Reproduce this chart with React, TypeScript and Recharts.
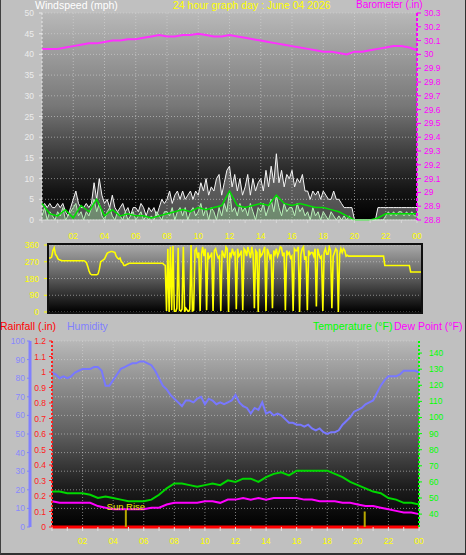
import React from "react";
import {
  Area,
  CartesianGrid,
  ComposedChart,
  Line,
  LineChart,
  ReferenceLine,
  XAxis,
  YAxis,
} from "recharts";

const FONT = "'Liberation Sans', Arial, sans-serif";
const TICK_FONT = 8.5;

// time axis (hours of the day)
const HOUR_TICKS = [0, 1, 2, 3, 4, 5, 6, 7, 8, 9, 10, 11, 12, 13, 14, 15, 16, 17, 18, 19, 20, 21, 22, 23, 24];
const GRID_HOURS = [2, 4, 6, 8, 10, 12, 14, 16, 18, 20, 22];

// wind (mph), 10 minute samples
const WIND_GUST = [
  3, 4, 3, 4, 3, 3,
  4, 3, 4, 2, 1, 3,
  5, 7, 4, 3, 3, 4,
  3, 4, 9, 5, 10, 6,
  4, 5, 3, 6, 3, 2,
  3, 4, 2, 3, 1, 3,
  3, 2, 4, 3, 1, 3,
  2, 3, 1, 3, 5, 4,
  5, 7, 4, 6, 7, 5,
  7, 5, 6, 7, 5, 7,
  6, 9, 7, 10, 6, 8,
  7, 10, 11, 6, 9, 12,
  13, 8, 11, 7, 10, 6,
  8, 11, 6, 10, 7, 9,
  10, 7, 12, 8, 13, 9,
  16, 9, 12, 8, 11, 10,
  12, 8, 10, 9, 11, 7,
  7, 5, 7, 6, 7, 5,
  7, 6, 5, 5, 7, 5,
  5, 4, 3, 3, 3, 3,
  0, 0, 0, 0, 0, 0,
  0, 0, 0, 3, 3, 3,
  3, 3, 3, 3, 3, 3,
  3, 3, 3, 3, 3, 3,
  3,
];
const WIND_SPEED = [
  1, 3, 0, 2, 1, 0,
  2, 1, 3, 0, 1, 2,
  3, 4, 1, 2, 0, 2,
  1, 3, 5, 2, 4, 1,
  0, 2, 3, 1, 0, 2,
  1, 0, 2, 0, 1, 2,
  0, 1, 2, 0, 1, 0,
  1, 0, 2, 1, 0, 2,
  2, 1, 3, 0, 2, 3,
  1, 3, 0, 2, 3, 1,
  2, 4, 1, 3, 0, 3,
  2, 0, 3, 1, 4, 2,
  7, 2, 3, 1, 4, 2,
  3, 1, 4, 2, 0, 3,
  2, 4, 1, 3, 5, 2,
  6, 3, 1, 4, 2, 3,
  3, 1, 4, 2, 3, 1,
  2, 0, 3, 1, 2, 0,
  2, 1, 0, 2, 1, 0,
  1, 0, 1, 0, 1, 0,
  0, 0, 0, 0, 0, 0,
  0, 0, 0, 0, 0, 0,
  1, 2, 1, 2, 1, 2,
  2, 1, 2, 1, 2, 1,
  1,
];
// 30 minute samples
const WIND_AVG = [
  4, 1.5, 1, 2.5, 0.5, 3.5, 2, 5, 1, 2.5, 1, 1.5, 1, 1, 0.5, 1, 1.5, 2, 2.5, 2, 3, 2.5, 3, 3.5, 7,
  3.5, 3, 3.5, 4, 3.5, 6, 4, 3.5, 4, 3.5, 3, 3, 2.5, 2, 1, 0, 0, 0, 0.5, 1.5, 1.5, 1.5, 1.5, 1.5,
];
const BAROMETER = [
  30.04, 30.04, 30.04, 30.05, 30.06, 30.07, 30.08, 30.08, 30.09, 30.1, 30.1, 30.11, 30.11, 30.12,
  30.13, 30.14, 30.13, 30.13, 30.14, 30.14, 30.15, 30.14, 30.13, 30.13, 30.14, 30.13, 30.12, 30.11,
  30.1, 30.09, 30.08, 30.07, 30.06, 30.05, 30.04, 30.03, 30.02, 30.02, 30.01, 30.0, 30.02, 30.02,
  30.03, 30.04, 30.05, 30.06, 30.06, 30.05, 30.03,
];
const WIND_TICKS = [0, 5, 10, 15, 20, 25, 30, 35, 40, 45, 50];
const BARO_TICKS = [28.8, 28.9, 29, 29.1, 29.2, 29.3, 29.4, 29.5, 29.6, 29.7, 29.8, 29.9, 30, 30.1, 30.2, 30.3];

// wind direction (degrees), 5 minute samples
const WIND_DIR = [
  290, 290, 295, 330, 345, 310, 300, 285, 280, 278, 275, 275,
  275, 275, 275, 275, 275, 275, 275, 275, 275, 275, 275, 275,
  275, 275, 275, 275, 272, 265, 245, 220, 205, 200, 200, 200,
  200, 200, 205, 230, 270, 275, 280, 285, 300, 315, 320, 322,
  325, 325, 322, 320, 300, 290, 285, 290, 270, 265, 250, 250,
  255, 258, 262, 262, 262, 262, 262, 262, 262, 262, 262, 262,
  262, 262, 262, 262, 262, 262, 262, 262, 262, 262, 262, 262,
  262, 262, 262, 262, 262, 255, 250, 5, 340, 0, 350, 10,
  355, 5, 0, 20, 345, 10, 5, 15, 350, 0, 20, 10,
  0, 15, 360, 5, 10, 330, 340, 290, 320, 5, 310, 350,
  300, 340, 10, 320, 290, 300, 320, 5, 330, 340, 310, 290,
  300, 5, 330, 310, 290, 350, 340, 0, 320, 300, 340, 310,
  320, 15, 340, 300, 310, 330, 10, 340, 330, 300, 350, 320,
  290, 350, 310, 20, 330, 320, 0, 340, 300, 310, 330, 350,
  5, 340, 320, 290, 310, 20, 330, 310, 340, 300, 320, 350,
  345, 300, 320, 10, 330, 310, 320, 290, 300, 5, 340, 330,
  330, 350, 0, 310, 340, 350, 280, 300, 10, 330, 310, 320,
  320, 300, 340, 30, 340, 310, 290, 300, 5, 320, 340, 310,
  310, 350, 330, 20, 300, 320, 340, 330, 0, 310, 340, 320,
  340, 330, 300, 305, 300, 300, 300, 300, 300, 300, 300, 300,
  300, 300, 300, 300, 300, 300, 300, 300, 300, 300, 300, 300,
  300, 300, 300, 300, 300, 300, 300, 300, 250, 250, 250, 250,
  250, 250, 250, 250, 250, 250, 250, 250, 250, 250, 250, 250,
  250, 250, 250, 250, 215, 215, 215, 215, 215, 215, 215, 215,
  215,
];
const DIR_TICKS = [0, 90, 180, 270, 360];
const DIR_LETTERS = ["N", "E", "S", "W", "N"];

// humidity (%), 15 minute samples
const HUMIDITY = [
  83, 82, 80, 81,
  80, 81, 83, 84,
  85, 85, 85, 86,
  86, 84, 76, 76,
  79, 82, 85, 86,
  87, 88, 88, 89,
  89, 88, 87, 84,
  80, 76, 74, 71,
  69, 67, 65, 68,
  68, 67, 69, 70,
  66, 69, 68, 66,
  67, 66, 67, 68,
  71, 67, 65, 64,
  61, 64, 63, 67,
  61, 62, 60, 61,
  60, 58, 56, 56,
  55, 55, 54, 55,
  53, 52, 53, 51,
  50, 51, 51, 52,
  55, 57, 59, 62,
  63, 64, 66, 67,
  68, 72, 76, 79,
  81, 81, 81, 82,
  84, 84, 84, 84,
  83,
];
// temperature and dew point (F), 30 minute samples
const TEMPERATURE = [
  54, 54, 53, 53, 53, 52, 50, 51, 50, 49, 48, 48, 48, 49, 52, 56, 59, 59, 58, 57, 58, 59, 58, 61, 60,
  62, 62, 60, 63, 65, 66, 64, 67, 67, 67, 67, 67, 65, 63, 60, 58, 56, 54, 53, 50, 49, 47, 47, 46,
];
const DEW_POINT = [
  48, 47, 47, 47, 47, 47, 45, 44, 43, 43, 43, 43, 43, 44, 44, 46, 47, 47, 47, 47, 48, 48, 47, 49, 49,
  50, 49, 50, 49, 50, 50, 50, 50, 49, 49, 48, 48, 48, 47, 47, 46, 45, 45, 44, 43, 42, 41, 41, 40,
];
// rainfall (in), hourly
const RAINFALL = [0, 0, 0, 0, 0, 0, 0, 0, 0, 0, 0, 0, 0, 0, 0, 0, 0, 0, 0, 0, 0, 0, 0, 0, 0];
const SUN_RISE = 4.83;
const SUN_SET = 20.45;

const HUM_TICKS = [0, 10, 20, 30, 40, 50, 60, 70, 80, 90, 100];
const RAIN_TICKS = [0, 0.1, 0.2, 0.3, 0.4, 0.5, 0.6, 0.7, 0.8, 0.9, 1, 1.1, 1.2];
const TEMP_TICKS = [40, 50, 60, 70, 80, 90, 100, 110, 120, 130, 140];

const windTable = WIND_GUST.map((g, i) => ({ h: i / 6, gust: g, speed: WIND_SPEED[i] }));
const avgTable = WIND_AVG.map((v, i) => ({ h: i / 2, avg: v }));
const baroTable = BAROMETER.map((v, i) => ({ h: i / 2, baro: v }));
const dirTable = WIND_DIR.map((v, i) => ({ h: i / 12, dir: v }));
const humTable = HUMIDITY.map((v, i) => ({ h: i / 4, hum: v }));
const tempTable = TEMPERATURE.map((v, i) => ({ h: i / 2, temp: v, dew: DEW_POINT[i] }));
const rainTable = RAINFALL.map((v, i) => ({ h: i, rain: v }));

const oneDecimal = (v: number) => String(Math.round(v * 10) / 10);

const axisTick =
  (fill: string, anchor: "start" | "end" | "middle", fmt = (v: number) => String(v), fontSize = TICK_FONT) =>
  ({ x, y, payload }: any) => (
    <text
      x={x}
      y={y}
      fill={fill}
      fontSize={fontSize}
      fontFamily={FONT}
      textAnchor={anchor}
      dominantBaseline="central"
    >
      {fmt(payload.value)}
    </text>
  );

const HourTick = ({ x, y, payload }: any) => {
  const h = payload.value;
  if (h === 0 || h % 2 !== 0) return <g />;
  return (
    <text x={x} y={y} dy="0.71em" fill="#ffff00" fontSize={TICK_FONT} fontFamily={FONT} textAnchor="middle">
      {String(h % 24).padStart(2, "0")}
    </text>
  );
};

const title = (text: string, left: number, top: number, color: string, fontSize = 10.5) => (
  <div
    style={{
      position: "absolute",
      left,
      top,
      color,
      fontFamily: FONT,
      fontSize,
      lineHeight: "10px",
      whiteSpace: "nowrap",
    }}
  >
    {text}
  </div>
);

const gridStyle = {
  stroke: "#d8d8d8",
  strokeOpacity: 0.55,
  strokeDasharray: "1 2",
};

export default function App() {
  return (
    <div
      style={{
        position: "absolute",
        left: 0,
        top: 0,
        width: 466,
        height: 555,
        background: "#c0c0c0",
        overflow: "hidden",
      }}
    >
      {/* wind speed + barometer */}
      <div style={{ position: "absolute", left: 0, top: 0 }}>
        <ComposedChart width={466} height={245} data={windTable} margin={{ top: 13, right: 0, bottom: 0, left: 0 }}>
          <defs>
            <linearGradient id="bgWind" x1="0" y1="0" x2="0" y2="1">
              <stop offset="0" stopColor="#b8b8b8" />
              <stop offset="0.45" stopColor="#777777" />
              <stop offset="0.7" stopColor="#383838" />
              <stop offset="0.86" stopColor="#141414" />
              <stop offset="1" stopColor="#000000" />
            </linearGradient>
          </defs>
          <CartesianGrid yAxisId="wind" fill="url(#bgWind)" fillOpacity={1} verticalValues={GRID_HOURS} {...gridStyle} />
          <XAxis
            dataKey="h"
            type="number"
            domain={[0, 24]}
            ticks={HOUR_TICKS}
            interval={0}
            height={25}
            tickSize={3}
            tickMargin={10}
            tick={HourTick}
            axisLine={{ stroke: "#d8d8d8" }}
            tickLine={{ stroke: "#d8d8d8" }}
          />
          <YAxis
            yAxisId="wind"
            domain={[0, 50]}
            ticks={WIND_TICKS}
            interval={0}
            width={42}
            tickSize={3}
            tickMargin={5}
            tick={axisTick("#ececec", "end")}
            axisLine={{ stroke: "#e8e8e8", strokeDasharray: "2 2" }}
            tickLine={{ stroke: "#e8e8e8" }}
          />
          <YAxis
            yAxisId="baro"
            orientation="right"
            domain={[28.8, 30.3]}
            ticks={BARO_TICKS}
            interval={0}
            width={49}
            tickSize={4}
            tickMargin={3}
            tick={axisTick("#ff00ff", "start", oneDecimal)}
            axisLine={{ stroke: "#ff00ff", strokeWidth: 2, strokeDasharray: "3 2" }}
            tickLine={{ stroke: "#ff00ff" }}
          />
          <Area
            yAxisId="wind"
            dataKey="gust"
            type="linear"
            stroke="#f4f4f4"
            strokeWidth={1}
            fill="#ffffff"
            fillOpacity={0.3}
            isAnimationActive={false}
            dot={false}
          />
          <Area
            yAxisId="wind"
            dataKey="speed"
            type="linear"
            stroke="#b8f0b8"
            strokeWidth={1}
            fill="#a0e0a0"
            fillOpacity={0.4}
            isAnimationActive={false}
            dot={false}
          />
          <Line
            yAxisId="wind"
            data={avgTable}
            dataKey="avg"
            type="linear"
            stroke="#00e000"
            strokeWidth={1.5}
            dot={false}
            isAnimationActive={false}
          />
          <Line
            yAxisId="baro"
            data={baroTable}
            dataKey="baro"
            type="linear"
            stroke="#ff30ff"
            strokeWidth={2}
            dot={false}
            isAnimationActive={false}
          />
        </ComposedChart>
      </div>

      {/* wind direction */}
      <div style={{ position: "absolute", left: 0, top: 238 }}>
        <LineChart width={466} height={84} data={dirTable} margin={{ top: 7, right: 0, bottom: 10, left: 0 }}>
          <defs>
            <linearGradient id="bgDir" x1="0" y1="0" x2="0" y2="1">
              <stop offset="0" stopColor="#a8a8a8" />
              <stop offset="0.5" stopColor="#5a5a5a" />
              <stop offset="1" stopColor="#000000" />
            </linearGradient>
          </defs>
          <CartesianGrid yAxisId="dir" fill="url(#bgDir)" fillOpacity={1} vertical={false} {...gridStyle} />
          <XAxis dataKey="h" type="number" domain={[0, 24]} hide />
          <YAxis
            yAxisId="dir"
            domain={[0, 360]}
            ticks={DIR_TICKS}
            interval={0}
            width={49}
            tickSize={5}
            tickMargin={5}
            tick={axisTick("#ffff00", "end")}
            axisLine={false}
            tickLine={{ stroke: "#ffff00" }}
          />
          <YAxis
            yAxisId="compass"
            orientation="right"
            domain={[0, 360]}
            ticks={DIR_TICKS}
            interval={0}
            width={45}
            tickSize={0}
            tickMargin={18}
            tick={axisTick("#ffff00", "middle", (v) => DIR_LETTERS[DIR_TICKS.indexOf(v)], 11.5)}
            axisLine={false}
            tickLine={false}
          />
          <Line
            yAxisId="dir"
            dataKey="dir"
            type="linear"
            stroke="#ffff00"
            strokeWidth={1.6}
            dot={false}
            isAnimationActive={false}
          />
        </LineChart>
      </div>
      <div
        style={{
          position: "absolute",
          left: 47,
          top: 243,
          width: 376,
          height: 71,
          boxSizing: "border-box",
          border: "2px solid #101010",
          pointerEvents: "none",
        }}
      />

      {/* rainfall, humidity, temperature, dew point */}
      <div style={{ position: "absolute", left: 0, top: 328 }}>
        <ComposedChart width={466} height={224} data={humTable} margin={{ top: 13, right: 0, bottom: 0, left: 0 }}>
          <defs>
            <linearGradient id="bgClimate" x1="0" y1="0" x2="0" y2="1">
              <stop offset="0" stopColor="#b8b8b8" />
              <stop offset="0.5" stopColor="#5e5e5e" />
              <stop offset="0.78" stopColor="#1e1e1e" />
              <stop offset="1" stopColor="#000000" />
            </linearGradient>
          </defs>
          <CartesianGrid yAxisId="b_hum" fill="url(#bgClimate)" fillOpacity={1} verticalValues={GRID_HOURS} {...gridStyle} />
          <XAxis
            dataKey="h"
            type="number"
            domain={[0, 24]}
            ticks={HOUR_TICKS}
            interval={0}
            height={25}
            tickSize={4}
            tickMargin={7}
            tick={HourTick}
            axisLine={false}
            tickLine={{ stroke: "#e0e0e0" }}
          />
          <YAxis
            yAxisId="a_rain"
            domain={[0, 1.2]}
            ticks={RAIN_TICKS}
            interval={0}
            width={22}
            tickSize={3}
            tickMargin={3}
            tick={axisTick("#ff2020", "end", oneDecimal)}
            axisLine={{ stroke: "#ff2020", strokeWidth: 2, strokeDasharray: "2 2" }}
            tickLine={{ stroke: "#ff2020" }}
          />
          <YAxis
            yAxisId="b_hum"
            domain={[0, 100]}
            ticks={HUM_TICKS}
            interval={0}
            width={30}
            tickSize={3}
            tickMargin={2}
            tick={axisTick("#8888ff", "end")}
            axisLine={{ stroke: "#8080ff", strokeWidth: 3 }}
            tickLine={{ stroke: "#8080ff" }}
          />
          <YAxis
            yAxisId="temp"
            orientation="right"
            domain={[32, 147.5]}
            ticks={TEMP_TICKS}
            interval={0}
            width={47}
            tickSize={3}
            tickMargin={7}
            tick={axisTick("#00ff00", "start")}
            axisLine={{ stroke: "#00ff00", strokeWidth: 2, strokeDasharray: "2 2" }}
            tickLine={{ stroke: "#00ff00" }}
          />
          <Line
            yAxisId="b_hum"
            dataKey="hum"
            type="linear"
            stroke="#7878ff"
            strokeWidth={2}
            dot={false}
            isAnimationActive={false}
          />
          <Line
            yAxisId="temp"
            data={tempTable}
            dataKey="temp"
            type="linear"
            stroke="#00d800"
            strokeWidth={2}
            dot={false}
            isAnimationActive={false}
          />
          <Line
            yAxisId="temp"
            data={tempTable}
            dataKey="dew"
            type="linear"
            stroke="#ff00ff"
            strokeWidth={2}
            dot={false}
            isAnimationActive={false}
          />
          <Line
            yAxisId="a_rain"
            data={rainTable}
            dataKey="rain"
            type="linear"
            stroke="#ff0000"
            strokeWidth={3}
            dot={false}
            isAnimationActive={false}
          />
          <ReferenceLine
            yAxisId="a_rain"
            segment={[
              { x: SUN_RISE, y: 0 },
              { x: SUN_RISE, y: 0.11 },
            ]}
            stroke="#b8a800"
            strokeWidth={2}
            label={{ value: "Sun Rise", position: "top", offset: 0, fill: "#e8e800", fontSize: 9.5, fontFamily: FONT }}
          />
          <ReferenceLine
            yAxisId="a_rain"
            segment={[
              { x: SUN_SET, y: 0 },
              { x: SUN_SET, y: 0.1 },
            ]}
            stroke="#b8a800"
            strokeWidth={2}
          />
        </ComposedChart>
      </div>

      {title("Windspeed (mph)", 35, 0, "#ffffff")}
      {title("24 hour graph day : June 04 2026", 173, 0, "#ffff00")}
      {title("Barometer (.in)", 356, 0, "#ff00ff", 10)}
      {title("Rainfall (.in)", 0, 321, "#ff0000")}
      {title("Humidity", 67, 321, "#8080ff")}
      {title("Temperature (°F)", 313, 321, "#00ff00")}
      {title("Dew Point (°F)", 394, 321, "#ff00ff")}

      <div
        style={{
          position: "absolute",
          left: 0,
          top: 0,
          width: 466,
          height: 555,
          boxSizing: "border-box",
          borderLeft: "1px solid #404040",
          borderRight: "1px solid #303030",
          borderBottom: "2px solid #303030",
          pointerEvents: "none",
        }}
      />
    </div>
  );
}
